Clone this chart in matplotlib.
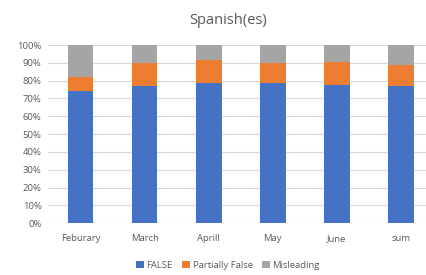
import matplotlib
matplotlib.use("Agg")
import matplotlib.pyplot as plt
from matplotlib.ticker import PercentFormatter
import numpy as np

categories = ["Feburary", "March", "Aprill", "May", "June", "sum"]
false_vals = [74.0, 77.2, 78.9, 78.9, 77.6, 77.2]
partial_vals = [8.2, 12.5, 12.7, 11.2, 12.6, 11.4]
misleading_vals = [17.8, 10.3, 8.4, 9.9, 9.8, 11.4]
series_names = ["FALSE", "Partially False", "Misleading"]
colors = ["#4472C4", "#ED7D31", "#A5A5A5"]

plt.rcParams['font.family'] = ['Open Sans', 'DejaVu Sans']
fig = plt.figure(figsize=(4.27, 2.75), dpi=100)
ax = fig.add_axes([48.5/427, 1-223.3/275, (433-48.5)/427, (223.3-45)/275])

x = np.arange(len(categories))
bottom = np.zeros(len(categories))
handles = []
for vals, name, c in zip([false_vals, partial_vals, misleading_vals], series_names, colors):
    b = ax.bar(x, vals, 0.4, bottom=bottom, color=c, label=name, zorder=3)
    bottom += np.array(vals)
    handles.append(b)

ax.set_xlim(-0.5, len(categories) - 0.5)
ax.set_ylim(0, 100)
ax.set_yticks(np.arange(0, 101, 10))
ax.yaxis.set_major_formatter(PercentFormatter(decimals=0))
ax.grid(axis='y', color='#D9D9D9', linewidth=0.8, zorder=0)
for s in ax.spines.values():
    s.set_visible(False)
ax.tick_params(axis='both', length=0, labelsize=6.8, labelcolor='#595959')
ax.tick_params(axis='y', pad=5)
ax.tick_params(axis='x', pad=8)
ax.set_xticks(x)
ax.set_xticklabels(categories)

fig.text(228/427, 1-20/275, "Spanish(es)", ha='center', va='center', fontsize=10.5, color='#595959')
fig.legend(handles=handles, labels=series_names, loc='center', bbox_to_anchor=(228/427, 1-265/275),
           ncol=3, frameon=False, fontsize=6.8, labelcolor='#595959', handlelength=0.8, handleheight=0.8,
           handletextpad=0.3, columnspacing=1.0)

fig.savefig("out.png", dpi=100)
